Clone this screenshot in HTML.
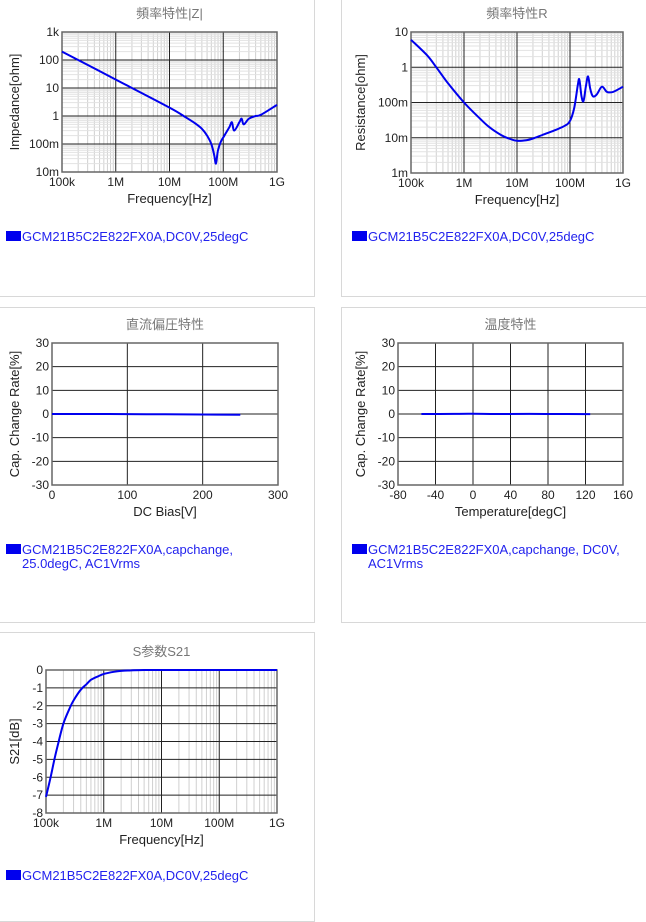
<!DOCTYPE html>
<html><head><meta charset="utf-8">
<style>
body{margin:0;width:646px;height:915px;background:#fff;overflow:hidden;font-family:"Liberation Sans","Noto Sans CJK JP",sans-serif;}
.panel{position:absolute;border:1px solid #d8d8d8;box-sizing:border-box;}
svg{position:absolute;left:0;top:0;}
</style></head><body>
<div class="panel" style="left:-1px;top:-1px;width:316px;height:298px"></div>
<div class="panel" style="left:341px;top:-1px;width:306px;height:298px"></div>
<div class="panel" style="left:-1px;top:307px;width:316px;height:316px"></div>
<div class="panel" style="left:341px;top:307px;width:306px;height:316px"></div>
<div class="panel" style="left:-1px;top:632px;width:316px;height:290px"></div>
<svg id="s" width="646" height="915"></svg>
<script>
// Impedance |Z|
const zFreq=[1e5,1e6,1e7,2e7,3e7,4e7,5e7,6e7,6.8e7,7.3e7,8e7,9e7,1.05e8,1.3e8,1.45e8,1.6e8,2e8,2.2e8,2.4e8,3e8,4e8,5e8,1e9];
const zVal=[200,20,2,0.9,0.55,0.35,0.2,0.1,0.04,0.02,0.06,0.12,0.2,0.4,0.6,0.3,0.6,0.8,0.5,0.8,1.0,1.1,2.5];
// Resistance R
const rFreq=[1e5,2e5,3e5,5e5,1e6,2e6,3e6,5e6,7e6,1e7,1.5e7,2e7,3e7,5e7,8e7,1e8,1.2e8,1.4e8,1.5e8,1.65e8,1.8e8,2e8,2.2e8,2.4e8,2.7e8,3.2e8,4e8,5e8,6.5e8,1e9];
const rVal=[6,2.2,1,0.35,0.1,0.035,0.02,0.012,0.0095,0.0082,0.0085,0.0095,0.012,0.016,0.022,0.03,0.07,0.3,0.45,0.15,0.11,0.3,0.55,0.25,0.15,0.17,0.28,0.2,0.2,0.28];
// DC bias
const dcV=[0,50,100,150,200,250];
const dcC=[0,0,-0.05,-0.1,-0.2,-0.3];
// Temperature
const tT=[-55,-20,0,25,60,100,125];
const tC=[0,0.05,0.1,0,0.05,0,-0.05];
// S21
const sFreq=[1e5,1.2e5,1.4e5,1.6e5,2e5,2.6e5,3e5,4e5,5e5,6e5,8e5,1e6,1.5e6,2e6,3e6,5e6,1e7,1e8,1e9];
const sVal=[-7.1,-6,-5,-4.2,-3,-2.1,-1.7,-1.1,-0.8,-0.55,-0.35,-0.22,-0.1,-0.05,-0.02,0,0,0,0];
const logTicks=['100k','1M','10M','100M','1G'];

const S=document.getElementById('s');const NS='http://www.w3.org/2000/svg';
function el(t,a,p){const e=document.createElementNS(NS,t);for(const k in a)e.setAttribute(k,a[k]);(p||S).appendChild(e);return e;}
function txt(x,y,s,o){const e=el('text',Object.assign({x:x,y:y,'font-size':12,fill:'#222','text-anchor':'middle'},o||{}));e.textContent=s;return e;}
function smooth(p){let d='M'+p[0][0].toFixed(1)+','+p[0][1].toFixed(1);
  for(let i=0;i<p.length-1;i++){const a=p[i-1]||p[i],b=p[i],c=p[i+1],e=p[i+2]||c;
    const c1=[b[0]+(c[0]-a[0])/6,b[1]+(c[1]-a[1])/6],c2=[c[0]-(e[0]-b[0])/6,c[1]-(e[1]-b[1])/6];
    d+=' C'+c1.map(v=>v.toFixed(1))+' '+c2.map(v=>v.toFixed(1))+' '+c.map(v=>v.toFixed(1));}
  return d;}
function chart(c){
  const g=el('g',{});
  
  
  const {x0,x1,y0,y1}=c;
  const sx=v=>x0+(c.xlog?(Math.log10(v)-c.xmin):(v-c.xmin))/(c.xmax-c.xmin)*(x1-x0);
  const sy=v=>y1-(c.ylog?(Math.log10(v)-c.ymin):(v-c.ymin))/(c.ymax-c.ymin)*(y1-y0);
  el('rect',{x:x0,y:y0,width:x1-x0,height:y1-y0,fill:'#fff'},g);
  if(c.xlog){for(let d=c.xmin;d<c.xmax;d++)for(let m=2;m<10;m++){const x=sx(m*Math.pow(10,d));el('line',{x1:x,x2:x,y1:y0,y2:y1,stroke:'#d0d0d0','stroke-width':1},g);}}
  if(c.ylog){for(let d=c.ymin;d<c.ymax;d++)for(let m=2;m<10;m++){const y=sy(m*Math.pow(10,d));el('line',{x1:x0,x2:x1,y1:y,y2:y,stroke:'#e2e2e2','stroke-width':1},g);}}
  c.xt.forEach((v,i)=>{const x=sx(v);el('line',{x1:x,x2:x,y1:y0,y2:y1,stroke:'#222','stroke-width':1},g);
    const t=txt(x,y1+14,c.xl[i],{}); g.appendChild(t);});
  c.yt.forEach((v,i)=>{const y=sy(v);el('line',{x1:x0,x2:x1,y1:y,y2:y,stroke:'#222','stroke-width':1},g);
    const t=txt(x0-3,y+4,c.yl[i],{'text-anchor':'end'}); g.appendChild(t);});
  el('rect',{x:x0,y:y0,width:x1-x0,height:y1-y0,fill:'none',stroke:'#666','stroke-width':1.5},g);
  const pts=c.xs.map((v,i)=>[sx(v),sy(c.ys[i])]);
  const pl=el('path',{d:smooth(pts),fill:'none',stroke:'#0000ee','stroke-width':2,'stroke-linejoin':'round'},g);
  
  
  const ti=txt((x0+x1)/2,y0-14,c.title,{'font-size':13,fill:'#777'});g.appendChild(ti);
  
  
  const xa=txt((x0+x1)/2,y1+31,c.xtitle,{'font-size':13});g.appendChild(xa);
  
  
  const cy=(y0+y1)/2;
  const ya=txt(c.ytx,cy,c.ytitle,{'font-size':13,transform:'rotate(-90 '+c.ytx+' '+cy+')'});g.appendChild(ya);
  
  
  const lg=el('g',{},g);
  
  
  el('rect',{x:c.lx,y:c.ly-10,width:15,height:10,fill:'#0000ee'},lg);
  c.leg.forEach((s,i)=>{txt(c.lx+16,c.ly+i*14,s,{'text-anchor':'start','font-size':13,fill:'#2222ee'});lg.appendChild(S.lastChild);});
}
const leg1=['GCM21B5C2E822FX0A,DC0V,25degC'];
chart({name:'impedance-chart',x0:62,x1:277,y0:32,y1:172,xlog:1,xmin:5,xmax:9,ylog:1,ymin:-2,ymax:3,
 xt:[1e5,1e6,1e7,1e8,1e9],xl:logTicks,yt:[1e-2,1e-1,1,10,100,1000],yl:['10m','100m','1','10','100','1k'],
 xs:zFreq,ys:zVal,title:'頻率特性|Z|',xtitle:'Frequency[Hz]',ytitle:'Impedance[ohm]',ytx:19,lx:6,ly:241,leg:leg1});
chart({name:'resistance-chart',x0:411,x1:623,y0:32,y1:173,xlog:1,xmin:5,xmax:9,ylog:1,ymin:-3,ymax:1,
 xt:[1e5,1e6,1e7,1e8,1e9],xl:logTicks,yt:[1e-3,1e-2,1e-1,1,10],yl:['1m','10m','100m','1','10'],
 xs:rFreq,ys:rVal,title:'頻率特性R',xtitle:'Frequency[Hz]',ytitle:'Resistance[ohm]',ytx:365,lx:352,ly:241,leg:leg1});
chart({name:'dc-bias-chart',x0:52,x1:278,y0:343,y1:485,xmin:0,xmax:300,ymin:-30,ymax:30,
 xt:[0,100,200,300],xl:['0','100','200','300'],yt:[-30,-20,-10,0,10,20,30],yl:['-30','-20','-10','0','10','20','30'],
 xs:dcV,ys:dcC,title:'直流偏圧特性',xtitle:'DC Bias[V]',ytitle:'Cap. Change Rate[%]',ytx:19,lx:6,ly:554,leg:['GCM21B5C2E822FX0A,capchange,','25.0degC, AC1Vrms']});
chart({name:'temperature-chart',x0:398,x1:623,y0:343,y1:485,xmin:-80,xmax:160,ymin:-30,ymax:30,
 xt:[-80,-40,0,40,80,120,160],xl:['-80','-40','0','40','80','120','160'],yt:[-30,-20,-10,0,10,20,30],yl:['-30','-20','-10','0','10','20','30'],
 xs:tT,ys:tC,title:'温度特性',xtitle:'Temperature[degC]',ytitle:'Cap. Change Rate[%]',ytx:365,lx:352,ly:554,leg:['GCM21B5C2E822FX0A,capchange, DC0V,','AC1Vrms']});
chart({name:'s21-chart',x0:46,x1:277,y0:670,y1:813,xlog:1,xmin:5,xmax:9,ymin:-8,ymax:0,
 xt:[1e5,1e6,1e7,1e8,1e9],xl:logTicks,yt:[-8,-7,-6,-5,-4,-3,-2,-1,0],yl:['-8','-7','-6','-5','-4','-3','-2','-1','0'],
 xs:sFreq,ys:sVal,title:'S参数S21',xtitle:'Frequency[Hz]',ytitle:'S21[dB]',ytx:19,lx:6,ly:880,leg:leg1});
</script>
</body></html>
